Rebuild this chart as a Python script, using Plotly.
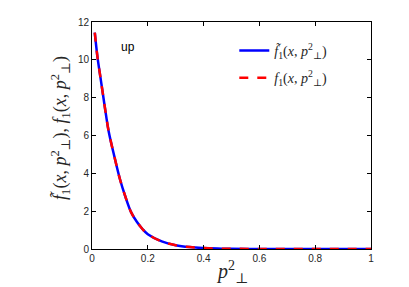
import plotly.graph_objects as go

p_perp2 = [0.01, 0.02, 0.03, 0.04, 0.05, 0.06, 0.08, 0.10, 0.12, 0.14, 0.16, 0.18,
           0.20, 0.25, 0.30, 0.35, 0.40, 0.45, 0.50, 0.60, 0.70, 0.80, 0.90, 1.00]
f1_tilde = [11.44, 10.1, 9.1, 8.1, 7.1, 6.2, 4.9, 3.7, 2.75, 1.95, 1.45, 1.07,
            0.78, 0.40, 0.20, 0.10, 0.05, 0.025, 0.012, 0.003, 0.001, 0.0, 0.0, 0.0]
f1 = [11.44, 10.1, 9.1, 8.1, 7.1, 6.2, 4.9, 3.7, 2.75, 1.95, 1.45, 1.07,
      0.78, 0.40, 0.20, 0.10, 0.05, 0.025, 0.012, 0.003, 0.001, 0.0, 0.0, 0.0]
x_ticks = [0, 0.2, 0.4, 0.6, 0.8, 1]
y_ticks = [0, 2, 4, 6, 8, 10, 12]

serif = "Liberation Serif, DejaVu Serif, serif"
sans = "Liberation Sans, Arial, sans-serif"

fig = go.Figure()
fig.add_trace(go.Scatter(
    x=p_perp2, y=f1_tilde, mode="lines", line=dict(color="rgb(0,0,255)", width=2.5, shape="spline"),
    legendgroup="a",
    name="<i>f̃</i><sub>1</sub>(<i>x</i>, <i>p</i><sup>2</sup><sub>⊥</sub>)"))
fig.add_trace(go.Scatter(
    x=p_perp2, y=f1, mode="lines", line=dict(color="rgb(255,0,0)", width=2.5, dash="dash", shape="spline"),
    legendgroup="b",
    name="<i>f</i><sub>1</sub>(<i>x</i>, <i>p</i><sup>2</sup><sub>⊥</sub>)"))

axis_common = dict(showline=True, linecolor="black", linewidth=1, mirror="ticks",
                   ticks="inside", ticklen=4, tickcolor="black", showgrid=False, zeroline=False,
                   automargin=False,
                   tickfont=dict(family=sans, size=10, color="#262626"))
fig.update_xaxes(range=[0, 1], tickvals=x_ticks, ticktext=[str(t) for t in x_ticks], **axis_common)
fig.update_yaxes(range=[0, 12], tickvals=y_ticks, ticktext=[str(t) for t in y_ticks], **axis_common)

fig.add_annotation(xref="paper", yref="paper", x=0.5, y=-0.101, yanchor="middle",
                   text="<i>p</i><sup>2</sup><sub>⊥</sub>", showarrow=False,
                   font=dict(family=serif, size=20, color="#262626"))
fig.add_annotation(xref="paper", yref="paper", x=-0.115, y=0.533, xanchor="center", yanchor="middle",
                   textangle=-90,
                   text="<i>f̃</i><sub>1</sub>(<i>x</i>, <i>p</i><sup>2</sup><sub>⊥</sub>), <i>f</i><sub>1</sub>(<i>x</i>, <i>p</i><sup>2</sup><sub>⊥</sub>)",
                   showarrow=False, font=dict(family=serif, size=18, color="#262626"))

fig.add_annotation(x=0.129, y=10.7, text="up", showarrow=False,
                   font=dict(family=sans, size=12, color="black"))

fig.update_layout(
    width=401, height=279, margin=dict(l=84, r=38, t=14, b=38, autoexpand=False),
    paper_bgcolor="white", plot_bgcolor="white",
    legend=dict(x=0.51, y=0.943, xanchor="left", yanchor="top", bgcolor="rgba(0,0,0,0)",
                font=dict(family=serif, size=14, color="#262626"), tracegroupgap=6),
    showlegend=True,
)
fig.write_html("out.html")
